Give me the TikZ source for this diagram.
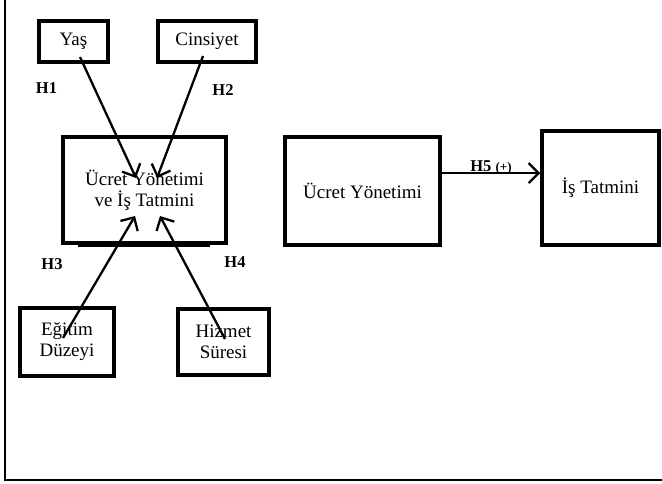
\documentclass[tikz,border=0pt]{standalone}
\usepackage{fontspec}
\setmainfont{Liberation Serif}
\usetikzlibrary{arrows.meta}
\begin{document}
\begin{tikzpicture}[x=1pt,y=-1pt,
  box/.style={draw,line width=3.5pt,inner sep=0pt,align=center,font=\fontsize{19}{21}\selectfont},
  hyp/.style={font=\fontsize{16.5}{18}\selectfont\bfseries},
  conn/.style={line width=2.3pt,-{Straight Barb[length=10pt,width=20pt,line width=2.3pt]}}]
\useasboundingbox (0,0) rectangle (662,483);
\draw[line width=1.3pt] (5,0) -- (5,480) -- (662,480);
% boxes
\node[box,minimum width=69pt,minimum height=41pt] (yas) at (73.5,41.5) {Yaş};
\node[box,minimum width=98pt,minimum height=41pt] (cins) at (207,41.5) {Cinsiyet};
\node[box,minimum width=163pt,minimum height=106pt] (ucis) at (144.5,190) {Ücret Yönetimi\\ve İş Tatmini};
\node[box,minimum width=94pt,minimum height=68pt] (egit) at (67,342) {Eğitim\\Düzeyi};
\node[box,minimum width=91pt,minimum height=66pt] (hiz) at (223.5,342) {Hizmet\\Süresi};
\node[box,minimum width=155pt,minimum height=108pt] (ucret) at (362.5,191) {Ücret Yönetimi};
\node[box,minimum width=117pt,minimum height=114pt] (is) at (600.5,188) {İş Tatmini};
\draw[line width=2pt] (78,245.5) -- (210,245.5);
% connector end points
\coordinate (y1) at (80,57);
\coordinate (y2) at (136,178);
\coordinate (c1) at (203,56);
\coordinate (c2) at (157,178);
\coordinate (e1) at (63,338);
\coordinate (e2) at (135,216);
\coordinate (h1) at (225,339);
\coordinate (h2) at (160,216);
\draw[conn] (y1) -- (y2);
\draw[conn] (c1) -- (c2);
\draw[conn] (e1) -- (e2);
\draw[conn] (h1) -- (h2);
\draw[conn] (ucret.east |- 0,173) -- (is.west |- 0,173);
% labels
\node[hyp] (lh1) at (46.5,88) {H1};
\node[hyp] (lh2) at (223,90) {H2};
\node[hyp] (lh3) at (52,264) {H3};
\node[hyp] (lh4) at (235,262) {H4};
\node[hyp] (lh5) at (491,167) {H5 {\fontsize{13}{15}\selectfont(+)}};
\end{tikzpicture}
\end{document}
